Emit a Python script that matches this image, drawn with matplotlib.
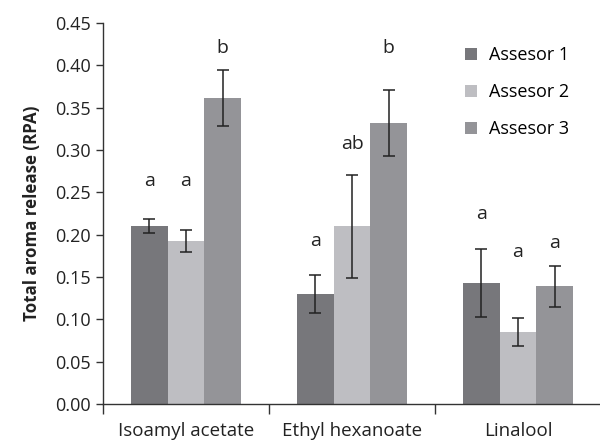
import numpy as np
import matplotlib
matplotlib.use("Agg")
import matplotlib.pyplot as plt
from matplotlib.patches import Patch

plt.rcParams['font.family'] = ['Open Sans', 'DejaVu Sans']

compounds = ["Isoamyl acetate", "Ethyl hexanoate", "Linalool"]
assessors = ["Assesor 1", "Assesor 2", "Assesor 3"]

# mean release per assessor, one value per compound
means = {
    "Assesor 1": [0.210, 0.130, 0.143],
    "Assesor 2": [0.192, 0.210, 0.085],
    "Assesor 3": [0.361, 0.332, 0.139],
}
errors = {
    "Assesor 1": [0.008, 0.022, 0.040],
    "Assesor 2": [0.013, 0.061, 0.016],
    "Assesor 3": [0.033, 0.039, 0.024],
}
letters = {
    "Assesor 1": ["a", "a", "a"],
    "Assesor 2": ["a", "ab", "a"],
    "Assesor 3": ["b", "b", "a"],
}
letter_y = {
    "Assesor 1": [0.263, 0.193, 0.224],
    "Assesor 2": [0.263, 0.307, 0.179],
    "Assesor 3": [0.420, 0.420, 0.190],
}

colors = ["#77777b", "#bebec2", "#949498"]

fig = plt.figure(figsize=(6, 4.4), dpi=100)
ax = fig.add_axes([103/600, 1 - 404/440, 498/600, 381/440])

x = np.arange(len(compounds))
width = 0.221
for i, name in enumerate(assessors):
    pos = x + (i - 1) * width
    ax.bar(pos, means[name], width, color=colors[i], edgecolor="none", zorder=2)
    ax.errorbar(pos, means[name], yerr=errors[name], fmt="none", ecolor="#222222",
                elinewidth=1.1, capsize=4, capthick=1.1, zorder=3)
    for px, ly, lt in zip(pos, letter_y[name], letters[name]):
        ax.text(px, ly, lt, ha="center", va="center", fontsize=14, color="#222222")

ax.set_xlim(-0.5, 2.5)
ax.set_ylim(0, 0.45)
ax.set_yticks(np.arange(0, 0.451, 0.05))
ax.set_yticklabels(["%.2f" % v for v in np.arange(0, 0.451, 0.05)])
ax.set_xticks(x)
ax.set_xticklabels(compounds)
ax.set_xticks([-0.5, 0.5, 1.5, 2.5], minor=True)
ax.tick_params(axis="x", which="major", length=0, pad=13, labelsize=13.5, colors="#222222")
ax.tick_params(axis="x", which="minor", length=7, width=1, direction="out", color="#333333")
ax.tick_params(axis="y", length=5, width=1, direction="out", labelsize=13,
               colors="#222222", color="#333333", pad=4)

for s in ("top", "right"):
    ax.spines[s].set_visible(False)
for s in ("left", "bottom"):
    ax.spines[s].set_color("#333333")
    ax.spines[s].set_linewidth(1)

ax.set_ylabel("Total aroma release (RPA)", fontsize=12.2, fontweight="bold",
              color="#222222", labelpad=10)

handles = [Patch(facecolor=c, edgecolor="none") for c in colors]
ax.legend(handles, assessors, loc="upper left", bbox_to_anchor=(0.713, 0.958),
          frameon=False, fontsize=13, handlelength=0.65, handleheight=0.65,
          handletextpad=0.65, labelspacing=1.05, borderaxespad=0)

fig.savefig("out.png", dpi=100)
